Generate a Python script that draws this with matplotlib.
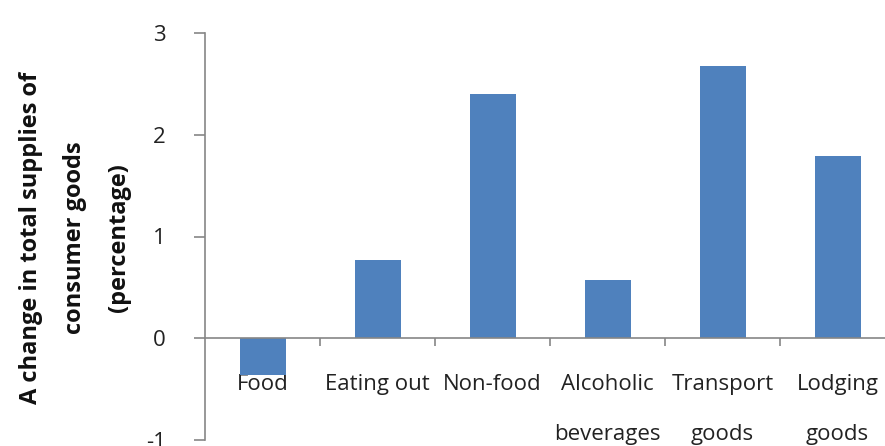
import numpy as np
import matplotlib.pyplot as plt

categories = ['Food', 'Eating out', 'Non-food', 'Alcoholic\nbeverages', 'Transport\ngoods', 'Lodging\ngoods']
values = [-0.36, 0.77, 2.40, 0.57, 2.68, 1.79]
y_ticks = [-1, 0, 1, 2, 3]

bar_color = '#4F81BD'
axis_color = '#868686'

plt.rcParams['font.family'] = ['Open Sans', 'DejaVu Sans']

fig = plt.figure(figsize=(8.85, 4.46), dpi=100)
# axes reaches past the right edge of the picture, as in the reference
ax = fig.add_axes([205 / 885, 6 / 446, 690 / 885, 407 / 446])

x = np.arange(len(categories))
ax.bar(x, values, width=0.4, color=bar_color, zorder=2)

ax.set_xlim(-0.5, len(categories) - 0.5)
ax.set_ylim(-1, 3)
ax.set_yticks(y_ticks)
ax.set_yticklabels([str(t) for t in y_ticks], fontsize=16, color='#222222')

for s in ['top', 'right']:
    ax.spines[s].set_visible(False)
ax.spines['left'].set_color(axis_color)
ax.spines['left'].set_linewidth(1.2)
ax.spines['bottom'].set_position(('data', 0))
ax.spines['bottom'].set_color(axis_color)
ax.spines['bottom'].set_linewidth(1.2)

ax.tick_params(axis='y', direction='out', length=8, width=1.2, color=axis_color, pad=20)
ax.set_xticks(x)
ax.set_xticklabels(categories, fontsize=16, color='#222222', linespacing=2.8, va='top')
ax.tick_params(axis='x', which='major', length=0, pad=26)
ax.set_xticks(np.arange(len(categories)) + 0.5, minor=True)
ax.tick_params(axis='x', which='minor', direction='out', length=6, width=1.2, color=axis_color)

fig.text(75 / 885, 1 - 238 / 446,
         'A change in total supplies of\nconsumer goods\n(percentage)',
         rotation=90, ha='center', va='center', multialignment='center',
         fontsize=17, fontweight='bold', linespacing=2.1, color='#111111')

fig.savefig('out.png', dpi=100)
